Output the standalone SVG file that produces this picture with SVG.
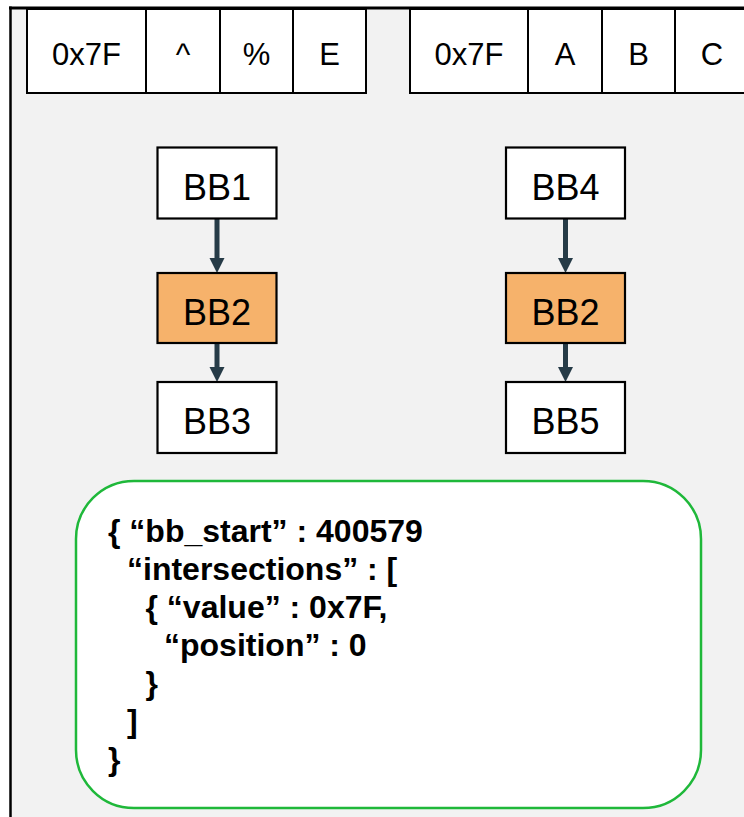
<svg xmlns="http://www.w3.org/2000/svg" width="744" height="817" viewBox="0 0 744 817">
  <style>
    .cell { fill: #ffffff; stroke: #000000; stroke-width: 2; }
    .bb { fill: #ffffff; stroke: #000000; stroke-width: 2.2; }
    .hot { fill: #f6b26b; }
    .lbl { font-family: "Liberation Sans", Arial, sans-serif; font-size: 31px; fill: #000000; text-anchor: middle; }
    .bbl { font-family: "Liberation Sans", Arial, sans-serif; font-size: 36px; fill: #000000; text-anchor: middle; }
    .json { font-family: "Liberation Sans", Arial, sans-serif; font-size: 32px; font-weight: bold; fill: #000000; }
    .edge { stroke: #263b47; stroke-width: 5; fill: none; }
    .head { fill: #263b47; }
  </style>

  <!-- canvas and frame -->
  <rect x="0" y="0" width="744" height="817" fill="#ffffff"/>
  <rect x="10" y="8" width="734" height="809" fill="#f2f2f2"/>
  <line x1="10.5" y1="6.5" x2="10.5" y2="817" stroke="#000000" stroke-width="2.5"/>
  <line x1="9" y1="8" x2="744" y2="8" stroke="#000000" stroke-width="3"/>

  <!-- byte strip 1 -->
  <g id="strip1">
    <rect class="cell" x="27" y="9" width="119" height="84"/>
    <rect class="cell" x="146" y="9" width="74" height="84"/>
    <rect class="cell" x="220" y="9" width="73" height="84"/>
    <rect class="cell" x="293" y="9" width="73" height="84"/>
    <text class="lbl" x="86.5" y="65">0x7F</text>
    <text class="lbl" x="183" y="65">^</text>
    <text class="lbl" x="256.5" y="65">%</text>
    <text class="lbl" x="329.5" y="65">E</text>
  </g>

  <!-- byte strip 2 -->
  <g id="strip2">
    <rect class="cell" x="410" y="9" width="118" height="84"/>
    <rect class="cell" x="528" y="9" width="74" height="84"/>
    <rect class="cell" x="602" y="9" width="73" height="84"/>
    <rect class="cell" x="675" y="9" width="80" height="84"/>
    <text class="lbl" x="469" y="65">0x7F</text>
    <text class="lbl" x="565" y="65">A</text>
    <text class="lbl" x="638.5" y="65">B</text>
    <text class="lbl" x="712" y="65">C</text>
  </g>

  <!-- connectors -->
  <g id="edges">
    <line class="edge" x1="217" y1="218" x2="217" y2="259"/>
    <polygon class="head" points="209.5,258 224.5,258 217,273"/>
    <line class="edge" x1="217" y1="343" x2="217" y2="368"/>
    <polygon class="head" points="209.5,367 224.5,367 217,382"/>
    <line class="edge" x1="565.5" y1="218" x2="565.5" y2="259"/>
    <polygon class="head" points="558,258 573,258 565.5,273"/>
    <line class="edge" x1="565.5" y1="343" x2="565.5" y2="368"/>
    <polygon class="head" points="558,367 573,367 565.5,382"/>
  </g>

  <!-- left path -->
  <g id="bb1">
    <rect class="bb" x="157.5" y="147.5" width="119" height="71"/>
    <text class="bbl" x="217" y="199.5">BB1</text>
  </g>
  <g id="bb2-left">
    <rect class="bb hot" x="157.5" y="273" width="119" height="70"/>
    <text class="bbl" x="217" y="324.5">BB2</text>
  </g>
  <g id="bb3">
    <rect class="bb" x="157.5" y="382" width="119" height="71"/>
    <text class="bbl" x="217" y="433.5">BB3</text>
  </g>

  <!-- right path -->
  <g id="bb4">
    <rect class="bb" x="506" y="147.5" width="119" height="71"/>
    <text class="bbl" x="565.5" y="199.5">BB4</text>
  </g>
  <g id="bb2-right">
    <rect class="bb hot" x="506" y="273" width="119" height="70"/>
    <text class="bbl" x="565.5" y="324.5">BB2</text>
  </g>
  <g id="bb5">
    <rect class="bb" x="506" y="382" width="119" height="71"/>
    <text class="bbl" x="565.5" y="433.5">BB5</text>
  </g>

  <!-- record -->
  <g id="record">
    <rect x="76" y="481" width="625" height="327" rx="58" ry="58" fill="#ffffff" stroke="#1fb83a" stroke-width="2.5"/>
    <text class="json" x="108" y="541.5">{ “bb_start” : 400579</text>
    <text class="json" x="127" y="579.5">“intersections” : [</text>
    <text class="json" x="145.5" y="617.5">{ “value” : 0x7F,</text>
    <text class="json" x="164" y="655.5">“position” : 0</text>
    <text class="json" x="145.5" y="693.5">}</text>
    <text class="json" x="127" y="731.5">]</text>
    <text class="json" x="108" y="769.5">}</text>
  </g>
</svg>
